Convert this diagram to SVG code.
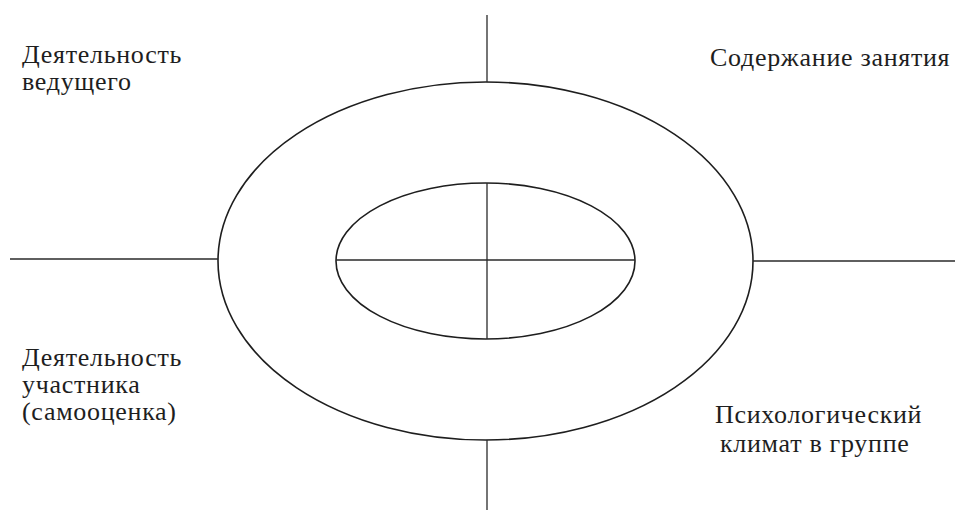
<svg xmlns="http://www.w3.org/2000/svg" width="957" height="514" viewBox="0 0 957 514">
<style>
.shape{fill:none;stroke:#1e1e1e;stroke-width:1.6}
.ln{stroke:#2a2a2a;stroke-width:1.3;fill:none}
</style>
<rect width="957" height="514" fill="#ffffff"/>
<g id="outer-ring"><ellipse class="shape" cx="485.5" cy="261" rx="267.5" ry="179"/></g>
<g id="inner-ring"><ellipse class="shape" cx="485.5" cy="261" rx="149.5" ry="78"/></g>
<g id="connectors">
<line class="ln" x1="487" y1="15" x2="487" y2="82"/>
<line class="ln" x1="487" y1="440" x2="487" y2="510"/>
<line class="ln" x1="487" y1="183" x2="487" y2="339"/>
<line class="ln" x1="336" y1="260" x2="635" y2="260"/>
<line class="ln" x1="10" y1="259" x2="218" y2="259"/>
<line class="ln" x1="753" y1="261" x2="955" y2="261"/>
</g>
<g id="label-top-left"><text x="22" y="63" font-family="Liberation Serif" font-size="26" letter-spacing="0.7" fill="#1e1e1e">Деятельность</text><text x="22" y="90" font-family="Liberation Serif" font-size="26" letter-spacing="0.7" fill="#1e1e1e">ведущего</text></g>
<g id="label-top-right"><text x="710" y="66" font-family="Liberation Serif" font-size="26" letter-spacing="0.7" fill="#1e1e1e">Содержание занятия</text></g>
<g id="label-bottom-left"><text x="22" y="366" font-family="Liberation Serif" font-size="26" letter-spacing="0.7" fill="#1e1e1e">Деятельность</text><text x="22" y="393" font-family="Liberation Serif" font-size="26" letter-spacing="0.7" fill="#1e1e1e">участника</text><text x="22" y="420" font-family="Liberation Serif" font-size="26" letter-spacing="0.7" fill="#1e1e1e">(самооценка)</text></g>
<g id="label-bottom-right"><text x="715" y="423" font-family="Liberation Serif" font-size="26" letter-spacing="0.7" fill="#1e1e1e">Психологический</text><text x="720" y="452" font-family="Liberation Serif" font-size="26" letter-spacing="0.7" fill="#1e1e1e">климат в группе</text></g>
</svg>
